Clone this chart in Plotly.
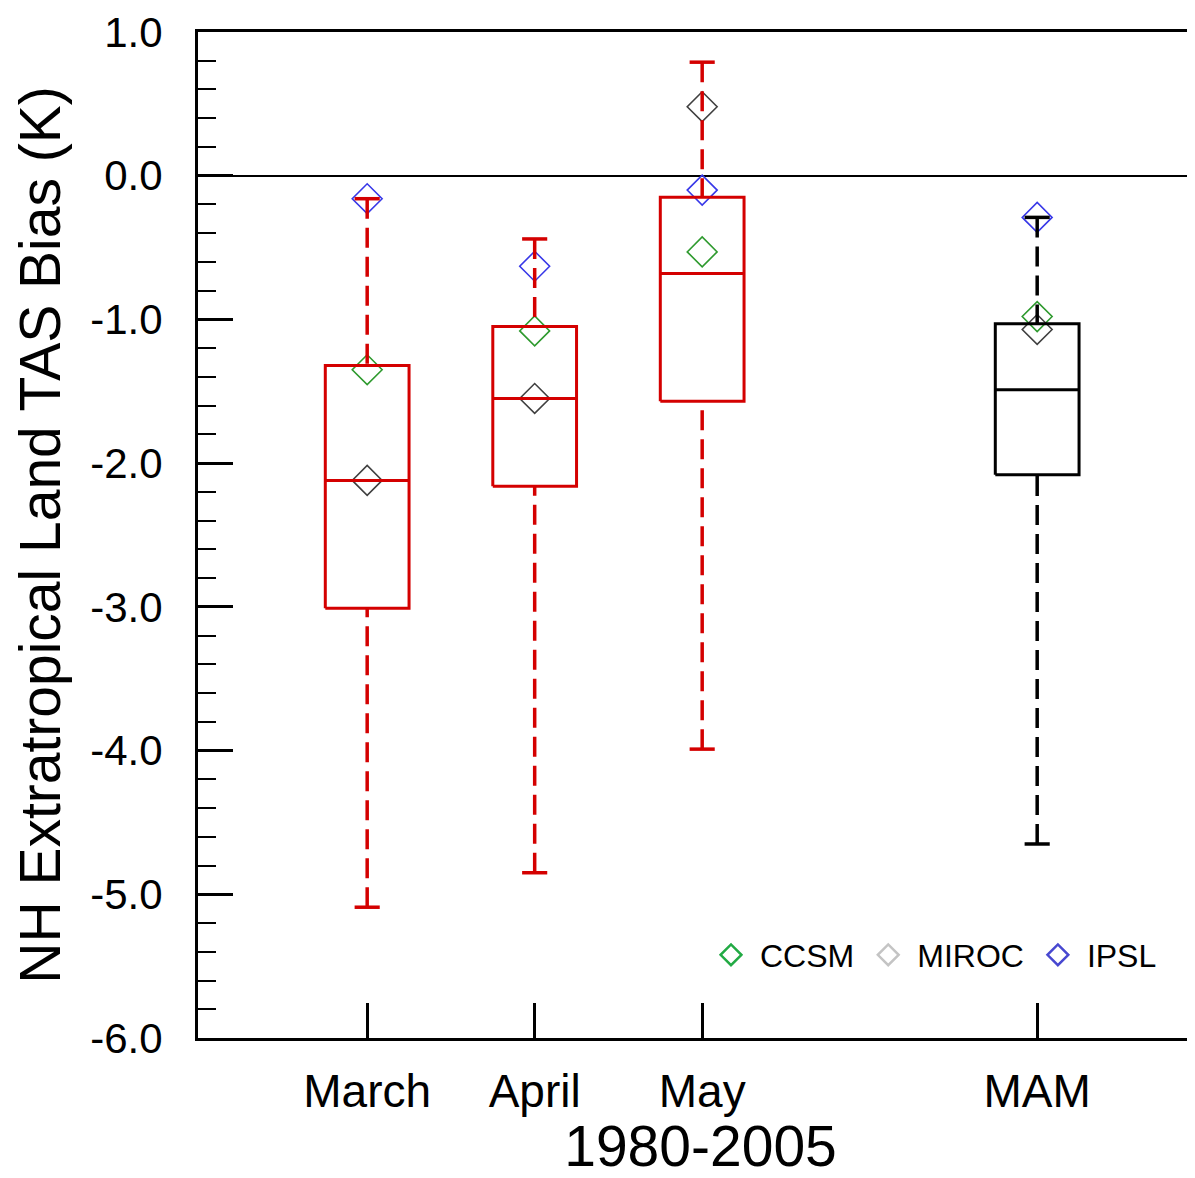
import plotly.graph_objects as go

categories = ["March", "April", "May", "MAM"]
positions = [1, 2, 3, 5]
box_colors = ["#d40000", "#d40000", "#d40000", "#000000"]

q3 = [-1.32, -1.05, -0.15, -1.03]
median = [-2.12, -1.55, -0.68, -1.49]
q1 = [-3.01, -2.16, -1.57, -2.08]
upper = [-0.16, -0.44, 0.79, -0.29]
lower = [-5.09, -4.85, -3.99, -4.65]

models = ["CCSM", "MIROC", "IPSL"]
ccsm = [-1.35, -1.08, -0.53, -0.98]
miroc = [-2.12, -1.55, 0.48, -1.07]
ipsl = [-0.16, -0.63, -0.10, -0.29]

plot_colors = {"CCSM": "#2e9a2e", "MIROC": "#404040", "IPSL": "#3838e8"}
legend_colors = {"CCSM": "#22aa44", "MIROC": "#c4c4c4", "IPSL": "#4848d0"}

FONT = "Liberation Sans, Arial, sans-serif"
HALF = 0.25
CAP = 0.075

fig = go.Figure()

# model diamonds (drawn first so whiskers lie over them)
for name, vals in zip(models, [ccsm, miroc, ipsl]):
    fig.add_trace(go.Scatter(
        x=positions, y=vals, mode="markers", showlegend=False,
        marker=dict(symbol="diamond-open", size=23, color=plot_colors[name],
                    line=dict(width=1.6, color=plot_colors[name])),
    ))

for xc, a, m, b, hi, lo, col in zip(positions, q3, median, q1, upper, lower, box_colors):
    # box
    fig.add_trace(go.Scatter(
        x=[xc - HALF, xc + HALF, xc + HALF, xc - HALF, xc - HALF],
        y=[b, b, a, a, b], mode="lines", showlegend=False,
        line=dict(color=col, width=3)))
    # median
    fig.add_trace(go.Scatter(
        x=[xc - HALF, xc + HALF], y=[m, m], mode="lines", showlegend=False,
        line=dict(color=col, width=3)))
    # whiskers (dashed)
    fig.add_trace(go.Scatter(
        x=[xc, xc, None, xc, xc], y=[hi, a, None, lo, b], mode="lines", showlegend=False,
        line=dict(color=col, width=3.5, dash="20px,9px")))
    # caps
    fig.add_trace(go.Scatter(
        x=[xc - CAP, xc + CAP, None, xc - CAP, xc + CAP], y=[hi, hi, None, lo, lo],
        mode="lines", showlegend=False, line=dict(color=col, width=3.5)))

# legend entries
for name in models:
    fig.add_trace(go.Scatter(
        x=[None], y=[None], mode="markers", name=name,
        marker=dict(symbol="diamond-open", size=22, color=legend_colors[name],
                    line=dict(width=2.5, color=legend_colors[name])),
    ))

fig.update_layout(
    width=1195, height=1170,
    margin=dict(l=190, r=0, t=24, b=140),
    paper_bgcolor="white", plot_bgcolor="white",
    font=dict(family=FONT, color="black"),
    showlegend=True,
    legend=dict(orientation="h", x=0.5015, y=0.0825, xanchor="left", yanchor="middle",
                font=dict(size=32, family=FONT, color="black"),
                bgcolor="rgba(0,0,0,0)", itemsizing="trace", itemwidth=48),
    xaxis=dict(
        range=[-0.01, 5.99], tickmode="array", tickvals=positions, ticktext=categories,
        ticks="inside", ticklen=35, tickwidth=3, tickcolor="black",
        showline=True, linewidth=3, linecolor="black", mirror=True,
        showgrid=False, zeroline=False,
        tickfont=dict(size=46, family=FONT),
        ticklabelstandoff=11,
        title=dict(text="1980-2005", font=dict(size=57, family=FONT), standoff=18),
    ),
    yaxis=dict(
        range=[-6, 1], tickmode="array", tickvals=[1, 0, -1, -2, -3, -4, -5, -6],
        ticktext=["1.0", "0.0", "-1.0", "-2.0", "-3.0", "-4.0", "-5.0", "-6.0"],
        ticks="inside", ticklen=35, tickwidth=3, tickcolor="black",
        minor=dict(dtick=0.2, ticks="inside", ticklen=18, tickwidth=2, tickcolor="black", showgrid=False),
        showline=True, linewidth=3, linecolor="black",
        showgrid=False, zeroline=True, zerolinecolor="black", zerolinewidth=1.5,
        tickfont=dict(size=42, family=FONT),
        ticklabelstandoff=24,
        title=dict(text="NH Extratropical Land TAS Bias (K)", font=dict(size=57, family=FONT), standoff=28),
    ),
)

fig.write_html("out.html")
